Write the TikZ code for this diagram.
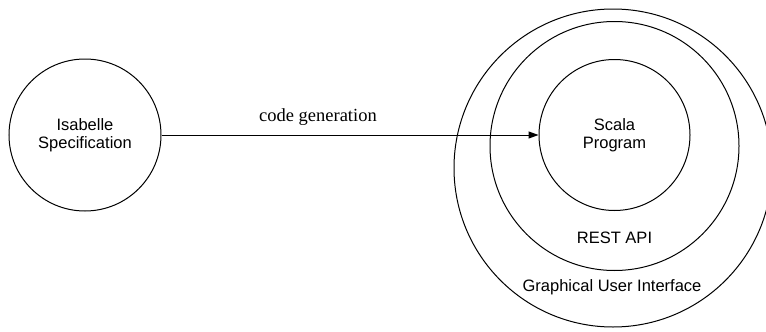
\documentclass[tikz,border=0pt]{standalone}
\usepackage{fontspec}
\setmainfont{Liberation Serif}
\setsansfont{Liberation Sans}
\usetikzlibrary{arrows.meta}
\begin{document}
\begin{tikzpicture}[x=1pt,y=-1pt,
  ring/.style={draw=black,line width=1pt,circle,inner sep=0pt,align=center,
    font=\sffamily\fontsize{16.5}{17.5}\selectfont},
  lab/.style={inner sep=0pt,font=\sffamily\fontsize{16.5}{17.5}\selectfont},
  conn/.style={draw=black,line width=1pt,-{Triangle[length=10pt,width=7pt]}}]
\useasboundingbox (0,0) rectangle (766,332);
\clip (0,0) rectangle (766,332);
\node[ring,minimum size=318pt] (gui) at (613,168) {};
\node[ring,minimum size=249pt] (rest) at (614.5,146) {};
\node[ring,minimum size=151pt] (scala) at (614.5,135) {Scala\\Program};
\node[ring,minimum size=152pt] (isa) at (85,135) {Isabelle\\Specification};
\node[lab] (restl) at (614.5,238) {REST API};
\node[lab] (guil) at (612,287) {Graphical User Interface};
\draw[conn] (isa.east) -- node[pos=0.415,above=6pt,font=\rmfamily\fontsize{18.5}{20}\selectfont] (cg) {code generation} (scala.west);
\end{tikzpicture}
\end{document}
